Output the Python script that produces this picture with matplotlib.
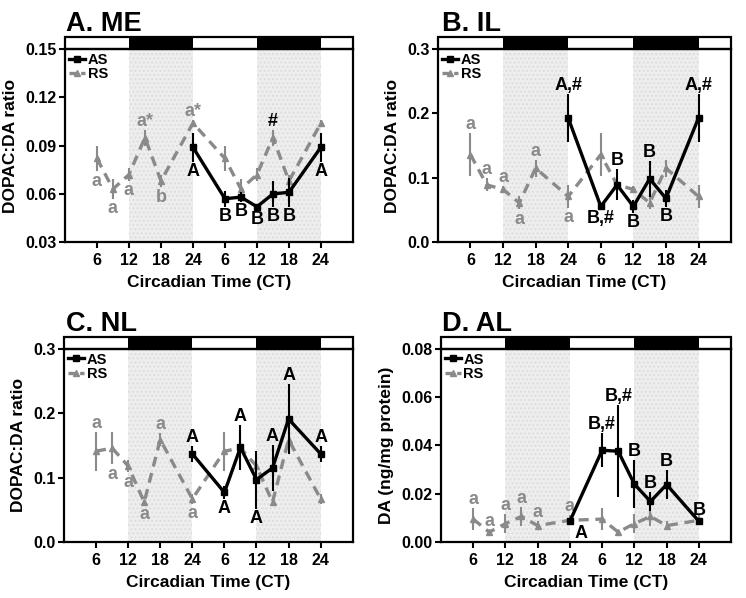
import numpy as np
import matplotlib
matplotlib.use('Agg')
import matplotlib.pyplot as plt
from matplotlib.patches import Rectangle
from matplotlib.lines import Line2D

plt.rcParams['font.family'] = ['Liberation Sans', 'DejaVu Sans']
plt.rcParams['font.weight'] = 'bold'

corCinza = '#8a8a8a'
tamanhoTick = 11.5
tamanhoRotulo = 13
tamanhoEixo = 12.5

# Circadian times sampled (each day is double-plotted)
ct = [6, 9, 12, 15, 18, 24]
ct_ticks = [6, 12, 18, 24, 30, 36, 42, 48]
ct_tick_labels = ['6', '12', '18', '24', '6', '12', '18', '24']

# A. ME
rs_me = [0.082, 0.063, 0.072, 0.095, 0.068, 0.104]
rs_me_err = [0.008, 0.006, 0.004, 0.005, 0.004, 0.002]
as_me = [0.057, 0.058, 0.052, 0.060, 0.061, 0.089]
as_me_err = [0.005, 0.003, 0.002, 0.008, 0.009, 0.009]
rs_me_lab = ['a', 'a', 'a', 'a*', 'b', 'a*']
rs_me_pos = ['d', 'd', 'd', 'u', 'd', 'u']
rs_me_lab2 = ['', '', '', '#', '', '']
as_me_lab = ['B', 'B', 'B', 'B', 'B', 'A']
as_me_pos = ['d', 'd', 'd', 'd', 'd', 'd']

# B. IL
rs_il = [0.136, 0.089, 0.082, 0.061, 0.115, 0.071]
rs_il_err = [0.033, 0.010, 0.006, 0.010, 0.013, 0.018]
as_il = [0.0555, 0.089, 0.0555, 0.0985, 0.068, 0.193]
as_il_err = [0.004, 0.024, 0.010, 0.028, 0.013, 0.037]
rs_il_lab = ['a', 'a', 'a', 'a', 'a', 'a']
rs_il_pos = ['u', 'u', 'u', 'd', 'u', 'd']
rs_il_lab2 = ['', '', '', '', '', '']
as_il_lab = ['B,#', 'B', 'B', 'B', 'B', 'A,#']
as_il_pos = ['d', 'u', 'd', 'u', 'd', 'u']

# C. NL
rs_nl = [0.141, 0.146, 0.118, 0.062, 0.159, 0.067]
rs_nl_err = [0.030, 0.025, 0.010, 0.004, 0.010, 0.008]
as_nl = [0.077, 0.147, 0.097, 0.115, 0.191, 0.137]
as_nl_err = [0.010, 0.035, 0.045, 0.035, 0.055, 0.012]
rs_nl_lab = ['a', 'a', 'a', 'a', 'a', 'a']
rs_nl_pos = ['u', 'd', 'd', 'd', 'u', 'd']
rs_nl_lab2 = ['', '', '', '', '', '']
as_nl_lab = ['A', 'A', 'A', 'A', 'A', 'A']
as_nl_pos = ['d', 'u', 'd', 'u', 'u', 'u']

# D. AL
rs_al = [0.0095, 0.0041, 0.0076, 0.0106, 0.0068, 0.0090]
rs_al_err = [0.0045, 0.001, 0.004, 0.004, 0.002, 0.002]
as_al = [0.038, 0.0376, 0.024, 0.0168, 0.0238, 0.0086]
as_al_err = [0.007, 0.019, 0.010, 0.004, 0.006, 0.001]
rs_al_lab = ['a', 'a', 'a', 'a', 'a', 'a']
rs_al_pos = ['u', 'u', 'u', 'u', 'u', 'u']
rs_al_lab2 = ['', '', '', '', '', '']
as_al_lab = ['B,#', 'B,#', 'B', 'B', 'B', 'B']
as_al_pos = ['u', 'u', 'u', 'u', 'u', 'u']
as_al_first = ('A', 'dr')


def rotular(ax, x, v, e, texto, lado, cor):
    if texto == '':
        return
    if lado == 'u':
        ax.annotate(texto, (x, v + e), xytext=(0, 0), textcoords='offset points',
                    ha='center', va='bottom', color=cor, fontsize=tamanhoRotulo, fontweight='bold')
    elif lado == 'dr':
        ax.annotate(texto, (x, v - e), xytext=(8, -1), textcoords='offset points',
                    ha='center', va='top', color=cor, fontsize=tamanhoRotulo, fontweight='bold')
    else:
        ax.annotate(texto, (x, v - e), xytext=(0, -1), textcoords='offset points',
                    ha='center', va='top', color=cor, fontsize=tamanhoRotulo, fontweight='bold')


def plotar_painel(ax, titulo, pos_titulo, rs, rs_err, as_, as_err, rs_lab, rs_pos, rs_lab2,
                  as_lab, as_pos, ylim, yticks, yfmt, ylabel, as_first=('A', 'd')):
    xlim = (0, 54)
    # dark-phase shading
    for ini in (12, 36):
        ax.axvspan(ini, ini + 12, facecolor='#eeeeee', edgecolor='#dddddd', hatch='....', lw=0, zorder=0)

    x_rs = np.array(ct + [c + 24 for c in ct])
    y_rs = np.array(rs + rs)
    e_rs = np.array(rs_err + rs_err)
    x_as = np.array([24] + [c + 24 for c in ct])
    y_as = np.array([as_[-1]] + as_)
    e_as = np.array([as_err[-1]] + as_err)

    ax.errorbar(x_rs, y_rs, yerr=e_rs, color=corCinza, ls='--', lw=2.4, marker='^', ms=5,
                elinewidth=1.5, capsize=0, dashes=(3, 2), zorder=3)
    ax.errorbar(x_as, y_as, yerr=e_as, color='black', ls='-', lw=2.4, marker='s', ms=4.5,
                elinewidth=1.5, capsize=0, zorder=4)

    for i in range(len(ct)):
        rotular(ax, x_rs[i], y_rs[i], e_rs[i], rs_lab[i], rs_pos[i], corCinza)
        rotular(ax, x_rs[i + 6], y_rs[i + 6], e_rs[i + 6], rs_lab2[i], 'u', 'black')
        rotular(ax, x_as[i + 1], y_as[i + 1], e_as[i + 1], as_lab[i], as_pos[i], 'black')
    rotular(ax, x_as[0], y_as[0], e_as[0], as_first[0], as_first[1], 'black')

    ax.set_xlim(xlim)
    ax.set_ylim(ylim)
    ax.set_xticks(ct_ticks)
    ax.set_xticklabels(ct_tick_labels)
    ax.set_yticks(yticks)
    ax.set_yticklabels([yfmt % v for v in yticks])
    ax.tick_params(direction='out', length=4, width=1.5, labelsize=tamanhoTick, pad=2)
    ax.tick_params(axis='x', pad=4)
    for lab in ax.get_xticklabels() + ax.get_yticklabels():
        lab.set_fontweight('bold')
    for s in ax.spines.values():
        s.set_linewidth(1.6)
    ax.set_xlabel('Circadian Time (CT)', fontsize=tamanhoEixo, fontweight='bold', labelpad=5)
    ax.set_ylabel(ylabel, fontsize=tamanhoEixo, fontweight='bold', labelpad=5)

    # light/dark bar above the plot
    trans = ax.get_xaxis_transform()
    h = 0.062
    fases = [(0, 12, 'white'), (12, 12, 'black'), (24, 12, 'white'), (36, 12, 'black'), (48, 6, 'white')]
    for ini, larg, cor in fases:
        ax.add_patch(Rectangle((ini, 1.0), larg, h, transform=trans, facecolor=cor,
                               edgecolor='none', clip_on=False))
    ax.add_patch(Rectangle((xlim[0], 1.0), xlim[1] - xlim[0], h, transform=trans, facecolor='none',
                           edgecolor='black', lw=1.6, clip_on=False))

    handles = [Line2D([], [], color='black', ls='-', lw=2.4, marker='s', ms=4),
               Line2D([], [], color=corCinza, ls='--', lw=2.4, marker='^', ms=4.5, dashes=(2, 1.5))]
    leg = ax.legend(handles, ['AS', 'RS'], loc='upper left', frameon=False, fontsize=10.5,
                    handlelength=1.1, handletextpad=0.2, labelspacing=0.05, borderaxespad=0.15,
                    borderpad=0.1)
    for t in leg.get_texts():
        t.set_fontweight('bold')

    ax.figure.text(pos_titulo[0], pos_titulo[1], titulo, fontsize=19.5, fontweight='bold', va='baseline')


fig = plt.figure(figsize=(7.46, 5.98), dpi=100)
axA = fig.add_axes([0.0871, 0.595, 0.386, 0.323])
axB = fig.add_axes([0.587, 0.595, 0.393, 0.323])
axC = fig.add_axes([0.0858, 0.0936, 0.387, 0.323])
axD = fig.add_axes([0.591, 0.0936, 0.389, 0.323])

plotar_painel(axA, 'A. ME', (66 / 746, 1 - 31 / 598), rs_me, rs_me_err, as_me, as_me_err,
              rs_me_lab, rs_me_pos, rs_me_lab2, as_me_lab, as_me_pos,
              (0.03, 0.15), [0.03, 0.06, 0.09, 0.12, 0.15], '%.2f', 'DOPAC:DA ratio')
plotar_painel(axB, 'B. IL', (442 / 746, 1 - 31 / 598), rs_il, rs_il_err, as_il, as_il_err,
              rs_il_lab, rs_il_pos, rs_il_lab2, as_il_lab, as_il_pos,
              (0.0, 0.3), [0.0, 0.1, 0.2, 0.3], '%.1f', 'DOPAC:DA ratio', as_first=('A,#', 'u'))
plotar_painel(axC, 'C. NL', (66 / 746, 1 - 331 / 598), rs_nl, rs_nl_err, as_nl, as_nl_err,
              rs_nl_lab, rs_nl_pos, rs_nl_lab2, as_nl_lab, as_nl_pos,
              (0.0, 0.3), [0.0, 0.1, 0.2, 0.3], '%.1f', 'DOPAC:DA ratio', as_first=('A', 'u'))
plotar_painel(axD, 'D. AL', (442 / 746, 1 - 331 / 598), rs_al, rs_al_err, as_al, as_al_err,
              rs_al_lab, rs_al_pos, rs_al_lab2, as_al_lab, as_al_pos,
              (0.0, 0.08), [0.0, 0.02, 0.04, 0.06, 0.08], '%.2f', 'DA (ng/mg protein)',
              as_first=as_al_first)

fig.savefig('out.png', dpi=100)
